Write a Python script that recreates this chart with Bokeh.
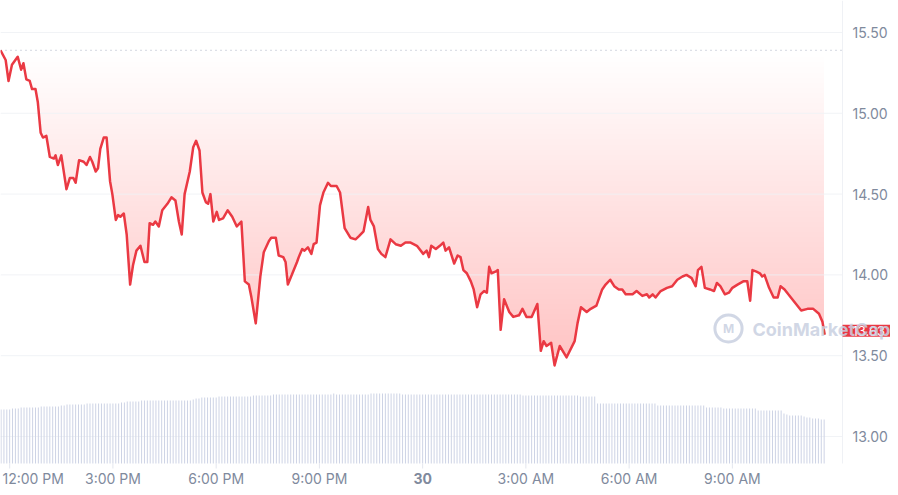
import numpy as np
from bokeh.plotting import figure
from bokeh.models import Range1d, Label
from bokeh.core.properties import value
from bokeh.embed import file_html
from bokeh.resources import INLINE

# ---- data ----
# price samples: minutes since 00:00 on the 29th, price in USD
price_minutes = [
    704, 713, 718, 724, 734, 740, 744, 749, 755, 759, 765, 769, 774, 778, 784, 790,
    797, 800, 804, 810, 819, 825, 831, 835, 841, 849, 854, 860, 864, 870, 874, 878,
    884, 889, 895, 899, 905, 909, 913, 919, 924, 930, 935, 941, 948, 955, 960, 964,
    970, 974, 980, 986, 995, 1002, 1009, 1015, 1020, 1025, 1034, 1040, 1045, 1051, 1056, 1062,
    1066, 1070, 1075, 1081, 1085, 1092, 1100, 1108, 1116, 1124, 1130, 1137, 1141, 1149, 1157, 1163,
    1172, 1176, 1184, 1189, 1197, 1201, 1205, 1213, 1221, 1224, 1230, 1234, 1240, 1246, 1250, 1255,
    1261, 1267, 1275, 1280, 1290, 1296, 1304, 1314, 1323, 1329, 1337, 1345, 1349, 1355, 1362, 1368,
    1375, 1384, 1393, 1402, 1410, 1419, 1430, 1441, 1447, 1451, 1455, 1463, 1470, 1476, 1480, 1486,
    1495, 1501, 1506, 1511, 1517, 1524, 1529, 1535, 1541, 1547, 1552, 1556, 1560, 1567, 1571, 1576,
    1582, 1591, 1598, 1608, 1614, 1621, 1630, 1640, 1646, 1651, 1656, 1664, 1670, 1679, 1691, 1705,
    1710, 1716, 1726, 1733, 1743, 1753, 1759, 1767, 1774, 1782, 1788, 1794, 1806, 1813, 1823, 1831,
    1835, 1841, 1846, 1855, 1866, 1875, 1884, 1893, 1900, 1909, 1916, 1920, 1926, 1932, 1941, 1948,
    1953, 1959, 1967, 1974, 1980, 1989, 1999, 2006, 2011, 2015, 2022, 2028, 2032, 2036, 2044, 2052,
    2059, 2064, 2071, 2082, 2091, 2100, 2111, 2121, 2131, 2137, 2141,
]
price_values = [
    15.39, 15.33, 15.20, 15.30, 15.35, 15.27, 15.31, 15.21, 15.20, 15.15, 15.15, 15.07, 14.88, 14.85, 14.86, 14.73,
    14.72, 14.74, 14.68, 14.74, 14.53, 14.60, 14.60, 14.57, 14.71, 14.70, 14.68, 14.73, 14.70, 14.64, 14.66, 14.78,
    14.85, 14.85, 14.58, 14.50, 14.34, 14.37, 14.36, 14.38, 14.25, 13.94, 14.06, 14.15, 14.18, 14.08, 14.08, 14.32,
    14.31, 14.33, 14.30, 14.40, 14.44, 14.48, 14.46, 14.33, 14.25, 14.50, 14.64, 14.79, 14.83, 14.77, 14.51, 14.45,
    14.44, 14.50, 14.33, 14.39, 14.34, 14.35, 14.40, 14.36, 14.30, 14.33, 13.96, 13.94, 13.87, 13.70, 13.99, 14.14,
    14.21, 14.23, 14.23, 14.12, 14.11, 14.08, 13.94, 14.01, 14.08, 14.11, 14.16, 14.15, 14.17, 14.13, 14.19, 14.20,
    14.43, 14.51, 14.57, 14.55, 14.55, 14.51, 14.29, 14.23, 14.22, 14.24, 14.27, 14.42, 14.34, 14.30, 14.16, 14.13,
    14.11, 14.22, 14.19, 14.18, 14.20, 14.20, 14.18, 14.13, 14.15, 14.11, 14.18, 14.16, 14.18, 14.20, 14.15, 14.17,
    14.07, 14.12, 14.11, 14.03, 14.01, 13.96, 13.91, 13.80, 13.88, 13.90, 13.89, 14.05, 14.01, 14.02, 14.03, 13.66,
    13.85, 13.77, 13.74, 13.75, 13.79, 13.74, 13.74, 13.82, 13.53, 13.59, 13.56, 13.58, 13.44, 13.56, 13.49, 13.59,
    13.70, 13.80, 13.77, 13.79, 13.81, 13.91, 13.94, 13.97, 13.93, 13.91, 13.91, 13.88, 13.88, 13.90, 13.87, 13.88,
    13.86, 13.88, 13.86, 13.90, 13.92, 13.93, 13.97, 13.99, 14.00, 13.98, 13.93, 14.03, 14.05, 13.92, 13.91, 13.90,
    13.95, 13.93, 13.88, 13.89, 13.92, 13.94, 13.96, 13.96, 13.84, 14.03, 14.02, 14.01, 13.99, 14.00, 13.92, 13.86,
    13.86, 13.93, 13.91, 13.86, 13.82, 13.78, 13.79, 13.79, 13.76, 13.71, 13.63,
]

# volume bars: one every 5 minutes starting 11:45 (relative units)
volume_start_minute = 705
volume_step_minutes = 5
volume_values = [
    54, 54, 54, 54, 55, 55, 55, 56, 56, 56, 56, 56,
    56, 56, 57, 57, 57, 57, 57, 57, 57, 58, 58, 59,
    59, 59, 59, 59, 59, 59, 60, 60, 60, 60, 60, 60,
    60, 60, 60, 60, 60, 60, 61, 61, 62, 62, 62, 62,
    62, 63, 63, 63, 63, 63, 63, 63, 63, 63, 63, 63,
    63, 63, 63, 63, 63, 63, 63, 64, 65, 65, 66, 66,
    66, 66, 66, 66, 67, 67, 67, 67, 67, 67, 67, 67,
    67, 67, 67, 67, 68, 68, 68, 68, 68, 68, 68, 69,
    69, 69, 69, 69, 69, 69, 69, 69, 69, 69, 69, 69,
    69, 69, 69, 69, 69, 69, 69, 69, 70, 69, 69, 69,
    69, 69, 69, 69, 69, 69, 69, 69, 69, 70, 70, 70,
    70, 70, 70, 70, 70, 70, 70, 70, 69, 69, 69, 69,
    69, 69, 69, 69, 69, 69, 69, 69, 69, 69, 69, 69,
    69, 69, 69, 69, 69, 69, 69, 69, 69, 69, 69, 69,
    69, 69, 69, 69, 69, 69, 69, 69, 69, 69, 69, 69,
    69, 69, 68, 68, 68, 68, 68, 68, 68, 68, 68, 68,
    68, 68, 68, 68, 68, 68, 68, 68, 68, 68, 67, 67,
    67, 67, 67, 67, 60, 60, 60, 60, 60, 60, 60, 60,
    60, 60, 60, 60, 60, 60, 60, 60, 60, 60, 60, 60,
    60, 58, 58, 58, 58, 58, 58, 58, 58, 58, 58, 58,
    58, 58, 58, 58, 58, 58, 56, 56, 56, 56, 56, 56,
    55, 55, 55, 55, 55, 55, 55, 55, 55, 55, 55, 55,
    53, 53, 53, 53, 53, 53, 53, 53, 53, 50, 49, 48,
    48, 48, 48, 48, 47, 46, 46, 45, 45, 45, 44, 44,
]

y_ticks = [13.0, 13.5, 14.0, 14.5, 15.0, 15.5]
x_tick_minutes = [720, 900, 1080, 1260, 1440, 1620, 1800, 1980]
x_tick_labels = ["12:00 PM", "3:00 PM", "6:00 PM", "9:00 PM", "30", "3:00 AM", "6:00 AM", "9:00 AM"]
last_price_label = "13.63"
watermark_text = "CoinMarketCap"
fill_top_price = 15.35

# ---- styling / layout ----
RED = "#ea3943"
AXIS_TEXT = "#808a9d"
GRID = "#eff1f5"
FONT = "Inter"
W, H = 890, 487
PX_PER_MIN = 842 / 1468      # horizontal scale of the chart area
PX_PER_USD = 161.6           # vertical scale of the chart area

t = np.array(price_minutes, dtype=float)
pr = np.array(price_values, dtype=float)
vt = volume_start_minute + volume_step_minutes * np.arange(len(volume_values))
vv = np.array(volume_values, dtype=float)

X0 = 704.0                      # left edge (first sample)
X_EDGE = X0 + 842 / PX_PER_MIN  # right edge of chart area
X_END = X0 + W / PX_PER_MIN
Y_TOP = 15.5 + 32 / PX_PER_USD
Y_EDGE = Y_TOP - 463 / PX_PER_USD   # bottom of chart area
Y_END = Y_TOP - H / PX_PER_USD

p = figure(width=W, height=H, output_backend="svg", toolbar_location=None,
           x_range=Range1d(X0, X_END), y_range=Range1d(Y_END, Y_TOP),
           x_axis_location=None, y_axis_location=None, min_border=0)
p.outline_line_color = None
p.grid.visible = False
p.background_fill_color = "white"
p.border_fill_color = "white"
p.extra_y_ranges = {"vol": Range1d(-(H - 463), 463)}

# gradient fill (nested layers) masked below the price line
n_layers = 60
layer_tops = np.linspace(pr.min(), fill_top_price, n_layers + 1)[1:]
layer_alpha = 1 - (1 - 0.27) ** (1 / n_layers)
p.quad(left=t[0], right=t[-1], bottom=Y_EDGE, top=layer_tops,
       fill_color=RED, fill_alpha=layer_alpha, line_color=None)
p.varea(x=t, y1=Y_EDGE, y2=pr, fill_color="white")

# grid lines, chart-area right border, opening-price reference
p.segment(x0=X0, x1=X_EDGE, y0=y_ticks, y1=y_ticks, line_color=GRID, line_width=1, line_alpha=0.85)
p.segment(x0=[X_EDGE], x1=[X_EDGE], y0=[Y_EDGE], y1=[Y_TOP], line_color=GRID, line_width=1)
p.segment(x0=[X0], x1=[X_EDGE], y0=[pr[0]], y1=[pr[0]], line_color="#a7afc0",
          line_width=1, line_dash="1 4")

# volume bars
p.segment(x0=vt, y0=0, x1=vt, y1=vv, line_color="#cdd3e5", line_width=1,
          y_range_name="vol")

# price line
p.line(t, pr, line_color=RED, line_width=2.5, line_join="round")

# price axis labels (right)
p.text(x=X_EDGE, y=y_ticks, text=[f"{v:.2f}" for v in y_ticks], x_offset=10,
       text_align="left", text_baseline="middle", text_font=value(FONT),
       text_font_size="14px", text_color=AXIS_TEXT)

# time axis ticks and labels (bottom)
tick_len = 5 / PX_PER_USD
p.segment(x0=x_tick_minutes, x1=x_tick_minutes, y0=Y_EDGE, y1=Y_EDGE - tick_len,
          line_color="#e3e6ee", line_width=1)
p.text(x=[X0], y=[Y_EDGE], text=[x_tick_labels[0]], x_offset=2, y_offset=15,
       text_align="left", text_baseline="middle", text_font=value(FONT),
       text_font_size="14px", text_color=AXIS_TEXT)
p.text(x=x_tick_minutes[1:], y=Y_EDGE, text=x_tick_labels[1:], y_offset=15,
       text_align="center", text_baseline="middle", text_font=value(FONT),
       text_font_size="14px", text_color=AXIS_TEXT,
       text_font_style=["bold" if s == "30" else "normal" for s in x_tick_labels[1:]])

# last price tag
p.add_layout(Label(x=X_EDGE, y=pr[-1], y_offset=4, text=last_price_label, text_align="left",
                   text_baseline="middle", text_font=FONT, text_font_size="13px",
                   text_color="white", background_fill_color=RED, padding=(10, 1)))

# watermark
p.add_layout(Label(x=X_EDGE, y=Y_EDGE, x_offset=-114, y_offset=135, text="M", text_align="center",
                   text_baseline="middle", text_font=FONT, text_font_size="12px",
                   text_font_style="bold", text_color="#c9d0e1", text_alpha=0.85,
                   border_line_color="#c9d0e1", border_line_width=3, border_line_alpha=0.85,
                   border_radius=14, padding=(8, 6)))
p.add_layout(Label(x=X_EDGE, y=Y_EDGE, x_offset=-90, y_offset=134, text=watermark_text,
                   text_align="left", text_baseline="middle", text_font=FONT,
                   text_font_size="18px", text_font_style="bold",
                   text_color="#c9d0e1", text_alpha=0.85))

open("out.html", "w").write(file_html(p, INLINE))
